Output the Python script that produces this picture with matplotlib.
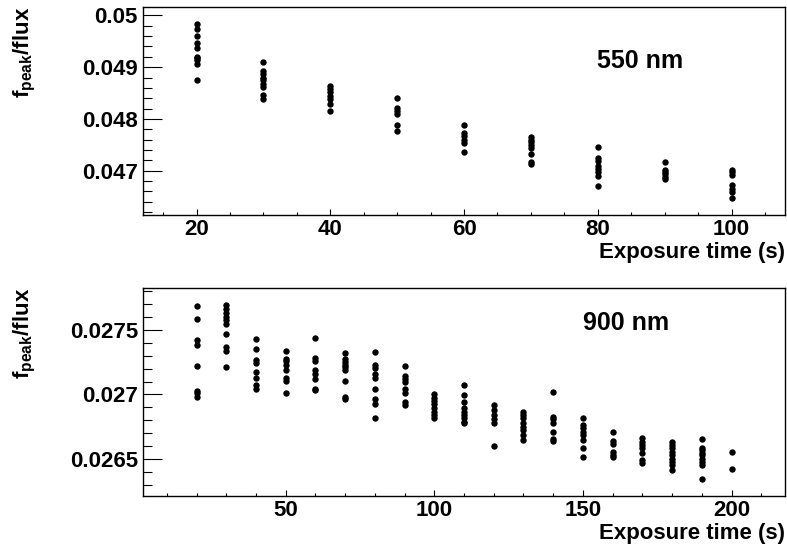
import matplotlib
matplotlib.use("Agg")
import matplotlib.pyplot as plt
from matplotlib.ticker import MultipleLocator, FuncFormatter

plt.rcParams["font.family"] = ["Liberation Sans", "DejaVu Sans"]
plt.rcParams["font.weight"] = "bold"
plt.rcParams["axes.labelweight"] = "bold"
plt.rcParams["mathtext.fontset"] = "custom"
plt.rcParams["mathtext.rm"] = "Liberation Sans:bold"
plt.rcParams["mathtext.it"] = "Liberation Sans:bold"
plt.rcParams["mathtext.bf"] = "Liberation Sans:bold"

# 550 nm: exposure time (s) and f_peak/flux measurements per exposure
t550 = [20, 30, 40, 50, 60, 70, 80, 90, 100]
f550 = [
    [0.04984, 0.04974, 0.04961, 0.04947, 0.04937, 0.04920, 0.04918, 0.04913, 0.04907, 0.04876],
    [0.04910, 0.04892, 0.04886, 0.04879, 0.04875, 0.04868, 0.04862, 0.04847, 0.04838],
    [0.04863, 0.04858, 0.04852, 0.04844, 0.04839, 0.04829, 0.04816],
    [0.04840, 0.04822, 0.04815, 0.04809, 0.04788, 0.04776],
    [0.04788, 0.04773, 0.04767, 0.04760, 0.04754, 0.04736],
    [0.04765, 0.04760, 0.04755, 0.04749, 0.04744, 0.04733, 0.04717, 0.04712],
    [0.04745, 0.04725, 0.04718, 0.04710, 0.04704, 0.04697, 0.04689, 0.04671],
    [0.04716, 0.04702, 0.04697, 0.04693, 0.04687, 0.04683],
    [0.04702, 0.04697, 0.04691, 0.04672, 0.04665, 0.04659, 0.04647],
]

# 900 nm
t900 = [20, 30, 40, 50, 60, 70, 80, 90, 100, 110, 120, 130, 140, 150, 160, 170, 180, 190, 200]
f900 = [
    [0.027682, 0.027582, 0.027420, 0.027381, 0.027221, 0.027028, 0.027008, 0.026981],
    [0.027690, 0.027657, 0.027631, 0.027600, 0.027574, 0.027541, 0.027471, 0.027368, 0.027335, 0.027209],
    [0.027425, 0.027350, 0.027265, 0.027247, 0.027175, 0.027131, 0.027072, 0.027046],
    [0.027335, 0.027278, 0.027257, 0.027226, 0.027188, 0.027128, 0.027103, 0.027015],
    [0.027440, 0.027283, 0.027260, 0.027188, 0.027162, 0.027118, 0.027046, 0.027033],
    [0.027317, 0.027278, 0.027252, 0.027226, 0.027209, 0.027188, 0.027103, 0.026981, 0.026964],
    [0.027329, 0.027226, 0.027201, 0.027162, 0.027131, 0.027046, 0.026969, 0.026925, 0.026822],
    [0.027221, 0.027144, 0.027118, 0.027097, 0.027041, 0.027015, 0.026943, 0.026917],
    [0.027000, 0.026974, 0.026948, 0.026923, 0.026892, 0.026866, 0.026845, 0.026819],
    [0.027072, 0.026995, 0.026943, 0.026892, 0.026866, 0.026840, 0.026815, 0.026788, 0.026776],
    [0.026917, 0.026879, 0.026840, 0.026807, 0.026776, 0.026603],
    [0.026866, 0.026840, 0.026819, 0.026781, 0.026750, 0.026724, 0.026685, 0.026647],
    [0.027020, 0.026827, 0.026807, 0.026781, 0.026711, 0.026660, 0.026639],
    [0.026819, 0.026768, 0.026742, 0.026711, 0.026691, 0.026647, 0.026587, 0.026518],
    [0.026711, 0.026639, 0.026614, 0.026556, 0.026531, 0.026518],
    [0.026665, 0.026634, 0.026608, 0.026583, 0.026549, 0.026492, 0.026471],
    [0.026634, 0.026608, 0.026583, 0.026556, 0.026531, 0.026505, 0.026479, 0.026454, 0.026420],
    [0.026655, 0.026587, 0.026570, 0.026549, 0.026531, 0.026505, 0.026479, 0.026454, 0.026345],
    [0.026556, 0.026428],
]


def flatten(times, groups):
    xs, ys = [], []
    for t, vals in zip(times, groups):
        xs.extend([t] * len(vals))
        ys.extend(vals)
    return xs, ys


def style_axis(ax, xmajor, xminor, ymajor, yminor):
    ax.xaxis.set_major_locator(MultipleLocator(xmajor))
    ax.xaxis.set_minor_locator(MultipleLocator(xminor))
    ax.yaxis.set_major_locator(MultipleLocator(ymajor))
    ax.yaxis.set_minor_locator(MultipleLocator(yminor))
    ax.yaxis.set_major_formatter(FuncFormatter(lambda v, _: f"{v:g}"))
    ax.tick_params(axis="y", which="major", direction="in", length=13.7, width=0.8, pad=3.6, labelsize=16)
    ax.tick_params(axis="y", which="minor", direction="in", length=6.8, width=0.8)
    ax.tick_params(axis="x", which="major", direction="in", length=4.5, width=0.8, pad=3, labelsize=16)
    ax.tick_params(axis="x", which="minor", direction="in", length=2.3, width=0.8)
    for spine in ax.spines.values():
        spine.set_linewidth(1.0)
    ax.set_xlabel("Exposure time (s)", loc="right", fontsize=16, labelpad=1)
    ax.set_ylabel(r"f$_{\rm peak}$/flux", loc="top", fontsize=16)
    ax.yaxis.set_label_coords(-0.164, 1.0)


fig = plt.figure(figsize=(7.87, 5.5), dpi=100)
ax1 = fig.add_axes([0.1817, 0.609, 0.8158, 0.378])
ax2 = fig.add_axes([0.1817, 0.0982, 0.8158, 0.378])

x1, y1 = flatten(t550, f550)
ax1.plot(x1, y1, "o", color="black", ms=4.6, mew=0)
ax1.set_xlim(12, 108)
ax1.set_ylim(0.046143, 0.05016)
style_axis(ax1, 20, 5, 0.001, 0.0002)
ax1.text(0.7067, 0.705, "550 nm", transform=ax1.transAxes, fontsize=18, va="baseline")

x2, y2 = flatten(t900, f900)
ax2.plot(x2, y2, "o", color="black", ms=4.6, mew=0)
ax2.set_xlim(2, 218)
ax2.set_ylim(0.026216, 0.027822)
style_axis(ax2, 50, 10, 0.0005, 0.0001)
ax2.text(0.685, 0.798, "900 nm", transform=ax2.transAxes, fontsize=18, va="baseline")

fig.savefig("out.png", dpi=100)
